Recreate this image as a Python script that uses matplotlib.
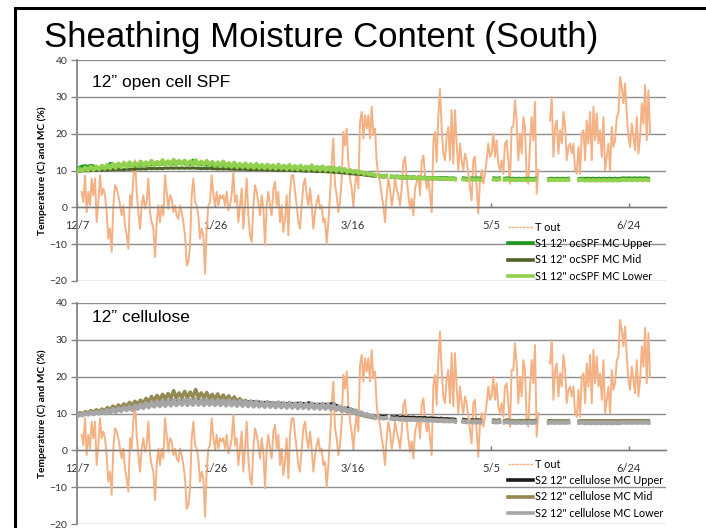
import numpy as np
import matplotlib
matplotlib.use("Agg")
import matplotlib.pyplot as plt
from matplotlib.lines import Line2D

# ---------------- data ----------------
# x axis: days since 12/7 (2011), ticks every 50 days
tick_days = [0, 50, 100, 150, 200]
tick_labels = ["12/7", "1/26", "3/16", "5/5", "6/24"]
y_ticks = [-20, -10, 0, 10, 20, 30, 40]

# Outdoor temperature (C), sampled every ~0.6 day, in contiguous segments
tout_step = 0.604
tout_seg_start = [1.69, 43.96, 87.44, 130.9, 171.4]
tout_seg1 = [4.2, 1.4, 8.7, -1.3, 4.2, 0.5, 7.8, 3.3, 7.8, -4.0, 1.4, 8.7, 3.3, 5.1, 3.3, -1.3,
             -8.5, -5.8, -12.1, 0.5, 6.0, 5.1, 3.3, 0.5, -2.2, 0.5, -4.9, -7.6, -11.2, 3.3, 0.5,
             8.2, 12.8, 4.2, -1.3, -5.8, 0.5, 3.3, -0.4, 1.4, 7.8, -1.3, -4.0, -5.8, -13.5, -4.0,
             0.5, -4.0, 0.5, -2.2, 8.7, 4.2, -0.4, 3.3, 2.4, -1.3, 0.5, -2.2, -3.1, 0.5, -1.3,
             -4.0, -7.6, -15.8, -14.9, -10.3, 3.3, 7.8, 1.4, 0.5]
tout_seg2 = [-2.2, -8.5, -5.8, -7.6, -18.0, -5.8, 0.5, 1.4, 8.7, 3.3, 0.5, 4.2, 0.5, 3.3, 2.4,
             3.3, 0.5, 4.2, -0.8, 0.5, 3.3, 9.6, 1.4, 3.3, -4.0, 0.5, 5.1, -5.8, 0.5, 7.8, -2.2,
             -7.6, -9.4, 0.5, 6.0, 4.2, 1.4, -2.2, 3.3, -0.4, -10.3, 0.5, 4.2, 0.5, -2.2, 5.1,
             6.9, 0.5, 4.2, -4.0, 0.5, -6.7, -3.1, 3.3, -7.6, 4.2, 8.7, 8.7, 4.2, 0.5, -4.0,
             -5.8, 0.5, 6.0, 7.8, 3.3, 0.5, 5.1, 0.5, -5.8, -1.3, 1.4]
tout_seg3 = [3.3, -0.4, 0.5, -4.0, -3.1, -9.9, -4.0, 3.3, 12.3, 18.7, 6.0, 3.3, -1.3, 1.4, 7.8,
             20.5, 16.8, 21.4, 12.3, 7.8, 5.1, 0.5, 6.0, 9.6, 5.1, 23.2, 25.9, 18.7, 25.0, 21.4,
             25.0, 18.7, 27.3, 19.6, 21.4, 12.3, 8.7, 6.9, 3.3, 0.5, -4.0, 3.3, 7.8, 5.1, 0.5,
             3.3, 7.8, 5.1, 3.3, 0.5, 5.1, 12.3, 13.7, 7.8, 3.3, -0.4, 2.4, -2.2, 5.1, 6.9, 8.7,
             3.3, 12.3, 14.1, 8.7, 5.1, 7.8, 3.3, -1.3, 17.8, 20.5, 12.3]
tout_seg4 = [24.5, 32.2, 21.8, 14.6, 12.8, 19.1, 21.8, 12.8, 26.4, 11.9, 26.4, 17.3, 10.1, 17.3,
             12.8, 10.1, 14.6, 12.8, 9.1, 5.5, 1.9, 12.8, 13.7, 5.5, -1.7, 7.3, 10.1, 6.4, 9.1,
             12.8, 17.3, 13.7, 14.6, 20.0, 13.7, 18.2, 11.9, 10.1, 12.8, 9.1, 17.3, 18.2, 12.8,
             6.4, 21.8, 21.8, 29.1, 23.6, 12.8, 20.0, 14.6, 24.5, 21.8, 8.2, 6.4, 17.3, 24.5,
             18.2, 28.6, 3.7, 10.1]
tout_seg5 = [23.6, 30.0, 13.7, 21.8, 23.6, 14.6, 20.9, 17.3, 25.9, 21.8, 12.8, 16.4, 17.3, 14.6,
             17.3, 10.1, 9.1, 16.4, 9.1, 20.0, 20.9, 12.8, 23.6, 17.3, 25.9, 12.8, 27.3, 18.2,
             25.5, 17.3, 20.9, 13.7, 24.5, 10.1, 13.7, 17.3, 10.1, 21.8, 16.4, 18.2, 24.5, 25.5,
             35.4, 32.7, 28.2, 33.6, 25.5, 19.1, 16.4, 22.7, 19.1, 15.5, 24.5, 14.6, 19.1, 28.2,
             22.7, 33.2, 18.2, 31.8, 20.0]

# Sheathing moisture content (%), daily values from day 0 (12/7) to day 207
mc_gap_days = [109, 113, 138, 139, 142, 147, 148, 149, 150, 154, 167, 168, 169, 170, 179, 180, 181]

s1_upper = [
    10.0, 10.9, 11.2, 11.3, 11.1, 11.4, 11.2, 10.9, 10.6, 10.8,
    11.0, 11.2, 11.9, 11.8, 11.3, 11.1, 11.2, 11.4, 11.2, 11.3,
    11.5, 11.2, 11.6, 11.4, 11.7, 11.4, 11.9, 11.5, 11.8, 11.6,
    12.0, 11.7, 12.2, 11.8, 12.1, 11.7, 12.3, 11.9, 12.1, 11.8,
    12.0, 11.6, 12.8, 11.8, 11.9, 11.5, 11.8, 11.4, 11.7, 11.3,
    11.6, 11.2, 11.5, 11.2, 11.4, 11.1, 11.4, 11.0, 11.3, 10.9,
    11.2, 10.9, 11.1, 10.8, 11.0, 10.8, 11.0, 10.7, 11.1, 10.7,
    10.9, 10.6, 11.0, 10.6, 10.9, 10.6, 11.0, 10.6, 10.8, 10.6,
    10.9, 10.5, 10.8, 10.5, 10.9, 10.5, 10.7, 10.4, 10.8, 10.4,
    10.6, 10.3, 10.7, 10.2, 10.4, 10.1, 10.2, 9.9, 10.0, 9.7,
    9.8, 9.5, 9.6, 9.4, 9.3, 9.1, 9.0, 8.8, 8.7, 8.6,
    8.7, 8.6, 8.7, 8.6, 8.5, 8.4, 8.5, 8.3, 8.4, 8.2,
    8.3, 8.2, 8.3, 8.1, 8.2, 8.1, 8.2, 8.0, 8.1, 8.0,
    8.1, 8.0, 8.1, 8.0, 8.1, 7.9, 8.0, 7.9, 7.9, 7.9,
    8.0, 7.9, 8.0, 8.0, 7.9, 8.0, 7.9, 7.9, 7.9, 7.9,
    8.0, 8.0, 7.9, 8.0, 7.9, 7.9, 8.0, 7.8, 7.9, 7.8,
    7.9, 7.8, 7.9, 7.8, 7.9, 7.8, 7.9, 7.8, 7.8, 7.8,
    7.8, 7.8, 7.9, 7.8, 7.9, 7.8, 7.9, 7.8, 7.9, 7.8,
    7.8, 7.8, 7.8, 7.9, 7.8, 7.9, 7.8, 7.9, 7.8, 7.9,
    7.8, 7.9, 7.8, 7.9, 7.8, 7.9, 7.8, 7.9, 8.0, 7.9,
    8.0, 7.9, 8.0, 7.9, 8.0, 7.9, 8.0, 7.9]
s1_mid = [
    9.7, 9.8, 9.9, 10.0, 9.9, 10.0, 10.1, 10.0, 10.1, 10.1,
    10.2, 10.1, 10.2, 10.3, 10.2, 10.3, 10.3, 10.2, 10.4, 10.3,
    10.4, 10.3, 10.5, 10.4, 10.5, 10.4, 10.6, 10.5, 10.6, 10.5,
    10.6, 10.5, 10.7, 10.6, 10.7, 10.6, 10.7, 10.6, 10.7, 10.6,
    10.7, 10.6, 10.7, 10.6, 10.6, 10.5, 10.6, 10.5, 10.6, 10.5,
    10.5, 10.4, 10.5, 10.4, 10.5, 10.4, 10.4, 10.3, 10.4, 10.3,
    10.4, 10.3, 10.3, 10.2, 10.3, 10.2, 10.3, 10.2, 10.2, 10.1,
    10.2, 10.1, 10.1, 10.0, 10.1, 10.0, 10.1, 10.0, 10.0, 9.9,
    10.0, 9.9, 9.9, 9.8, 9.9, 9.8, 9.8, 9.7, 9.8, 9.7,
    9.7, 9.6, 9.7, 9.5, 9.6, 9.4, 9.4, 9.3, 9.3, 9.1,
    9.1, 9.0, 9.0, 8.9, 8.8, 8.7, 8.6, 8.5, 8.4, 8.3,
    8.3, 8.2, 8.3, 8.2, 8.1, 8.1, 8.1, 8.0, 8.0, 7.9,
    8.0, 7.9, 7.9, 7.8, 7.9, 7.8, 7.8, 7.7, 7.8, 7.7,
    7.8, 7.7, 7.7, 7.6, 7.7, 7.6, 7.6, 7.6, 7.6, 7.6,
    7.6, 7.6, 7.6, 7.6, 7.6, 7.6, 7.6, 7.6, 7.6, 7.6,
    7.6, 7.6, 7.6, 7.6, 7.6, 7.6, 7.6, 7.5, 7.6, 7.5,
    7.6, 7.5, 7.6, 7.5, 7.6, 7.5, 7.6, 7.5, 7.5, 7.5,
    7.5, 7.5, 7.6, 7.5, 7.6, 7.5, 7.6, 7.5, 7.6, 7.5,
    7.5, 7.5, 7.5, 7.6, 7.5, 7.6, 7.5, 7.6, 7.5, 7.6,
    7.5, 7.6, 7.5, 7.6, 7.5, 7.6, 7.5, 7.6, 7.6, 7.6,
    7.6, 7.6, 7.6, 7.6, 7.6, 7.6, 7.6, 7.6]
s1_lower = [
    9.6, 10.4, 9.9, 10.8, 10.1, 11.0, 10.2, 11.1, 10.3, 11.3,
    10.5, 11.5, 10.6, 11.8, 10.7, 11.9, 10.9, 12.1, 11.0, 12.2,
    11.2, 12.0, 11.3, 12.4, 11.3, 12.2, 11.5, 12.6, 11.4, 12.3,
    11.6, 12.8, 11.5, 12.5, 11.7, 12.9, 11.6, 12.6, 11.8, 12.7,
    11.6, 12.5, 11.7, 12.8, 11.5, 12.4, 11.6, 12.6, 11.4, 12.3,
    11.3, 12.2, 11.2, 12.4, 11.1, 12.0, 11.0, 12.1, 10.9, 11.8,
    10.9, 11.9, 10.8, 11.7, 10.7, 11.8, 10.7, 11.5, 10.6, 11.6,
    10.6, 11.4, 10.5, 11.6, 10.5, 11.3, 10.4, 11.5, 10.4, 11.2,
    10.3, 11.3, 10.3, 11.1, 10.2, 11.4, 10.2, 11.0, 10.1, 11.1,
    10.0, 10.9, 10.0, 10.8, 9.9, 10.7, 9.8, 10.4, 9.6, 10.1,
    9.5, 9.9, 9.3, 9.6, 9.1, 9.3, 8.9, 9.0, 8.7, 8.6,
    8.5, 8.4, 8.5, 8.4, 8.3, 8.2, 8.3, 8.1, 8.2, 8.0,
    8.1, 8.0, 8.1, 7.9, 8.0, 7.9, 8.0, 7.8, 7.9, 7.8,
    7.9, 7.7, 7.8, 7.7, 7.8, 7.6, 7.7, 7.6, 7.6, 7.6,
    7.6, 7.5, 7.6, 7.6, 7.5, 7.6, 7.5, 7.5, 7.5, 7.5,
    7.6, 7.6, 7.5, 7.6, 7.5, 7.5, 7.6, 7.4, 7.5, 7.4,
    7.5, 7.4, 7.5, 7.4, 7.5, 7.4, 7.5, 7.4, 7.4, 7.4,
    7.4, 7.4, 7.5, 7.4, 7.5, 7.4, 7.5, 7.4, 7.5, 7.4,
    7.4, 7.4, 7.4, 7.5, 7.3, 7.4, 7.3, 7.4, 7.3, 7.4,
    7.3, 7.4, 7.3, 7.4, 7.3, 7.4, 7.3, 7.4, 7.5, 7.4,
    7.5, 7.4, 7.5, 7.4, 7.5, 7.4, 7.5, 7.4]

s2_upper = [
    9.6, 9.8, 10.0, 9.9, 10.1, 10.2, 10.3, 10.2, 10.5, 10.4,
    10.6, 10.8, 10.7, 11.0, 10.9, 11.2, 11.4, 11.2, 11.6, 11.5,
    11.8, 11.7, 12.1, 12.3, 12.4, 12.5, 12.7, 12.4, 12.9, 12.7,
    13.0, 12.8, 13.2, 13.0, 13.3, 13.1, 13.4, 13.2, 13.5, 13.3,
    13.4, 13.2, 13.5, 13.3, 13.6, 13.3, 13.5, 13.2, 13.6, 13.3,
    13.5, 13.2, 13.6, 13.3, 13.7, 13.2, 13.6, 13.1, 13.4, 13.1,
    13.4, 13.0, 13.3, 12.9, 13.3, 12.9, 13.2, 12.8, 13.1, 12.8,
    13.0, 12.7, 12.9, 12.6, 12.9, 12.6, 12.8, 12.5, 12.8, 12.6,
    12.9, 12.6, 12.8, 12.7, 13.0, 12.7, 12.6, 12.4, 12.6, 12.4,
    12.6, 12.5, 12.7, 12.6, 12.3, 11.8, 11.5, 11.3, 11.6, 11.3,
    11.0, 10.6, 10.3, 10.1, 9.9, 9.7, 9.6, 9.4, 9.3, 9.3,
    9.4, 9.3, 9.4, 9.3, 9.2, 9.1, 9.3, 9.0, 9.2, 9.0,
    9.1, 9.0, 9.1, 8.9, 9.0, 8.9, 9.0, 8.8, 8.9, 8.8,
    8.8, 8.7, 8.8, 8.6, 8.7, 8.6, 8.6, 8.5, 8.5, 8.5,
    8.5, 8.4, 8.4, 8.4, 8.3, 8.4, 8.3, 8.3, 8.3, 8.3,
    8.3, 8.3, 8.2, 8.3, 8.2, 8.2, 8.3, 8.1, 8.2, 8.1,
    8.2, 8.1, 8.2, 8.1, 8.2, 8.1, 8.2, 8.1, 8.1, 8.1,
    8.1, 8.1, 8.2, 8.0, 8.1, 8.0, 8.1, 8.0, 8.1, 8.0,
    8.0, 8.0, 8.0, 8.1, 8.0, 8.1, 8.0, 8.1, 8.0, 8.1,
    8.0, 8.1, 8.0, 8.1, 8.0, 8.1, 8.0, 8.1, 8.2, 8.1,
    8.2, 8.1, 8.2, 8.1, 8.2, 8.1, 8.2, 8.1]
s2_mid = [
    9.6, 10.2, 9.9, 10.5, 10.1, 10.8, 10.3, 11.0, 10.5, 11.2,
    10.7, 11.6, 11.0, 12.0, 11.3, 12.3, 11.6, 12.6, 11.9, 13.0,
    12.2, 13.3, 12.5, 13.6, 12.8, 14.1, 13.2, 14.6, 13.5, 14.9,
    13.7, 15.2, 13.9, 15.4, 14.1, 16.2, 14.2, 15.6, 14.3, 16.0,
    14.3, 15.8, 14.4, 16.5, 14.3, 15.6, 14.2, 15.7, 14.0, 15.2,
    13.9, 15.3, 13.7, 15.0, 13.6, 14.8, 13.4, 14.5, 13.2, 14.0,
    12.9, 13.6, 12.7, 13.2, 12.6, 12.9, 12.5, 12.8, 12.4, 12.7,
    12.5, 12.4, 12.5, 12.4, 12.4, 12.3, 12.4, 12.3, 12.3, 12.2,
    12.3, 12.2, 12.2, 12.1, 12.2, 12.1, 12.1, 12.0, 12.1, 12.0,
    12.0, 11.9, 11.9, 11.7, 11.5, 11.2, 11.0, 10.8, 10.9, 10.6,
    10.3, 10.0, 9.8, 9.6, 9.4, 9.2, 9.1, 8.9, 8.8, 8.8,
    8.9, 8.8, 8.9, 8.8, 8.7, 8.6, 8.7, 8.5, 8.6, 8.5,
    8.6, 8.5, 8.5, 8.4, 8.5, 8.4, 8.4, 8.3, 8.4, 8.3,
    8.3, 8.2, 8.3, 8.2, 8.2, 8.1, 8.2, 8.1, 8.1, 8.1,
    8.1, 8.1, 8.1, 8.1, 8.0, 8.1, 8.0, 8.0, 8.0, 8.0,
    8.1, 8.1, 8.0, 8.1, 8.0, 8.0, 8.1, 8.0, 8.0, 8.0,
    8.0, 7.9, 8.0, 7.9, 8.0, 7.9, 8.0, 7.9, 7.9, 7.9,
    7.9, 7.9, 8.0, 7.9, 8.0, 7.9, 8.0, 7.9, 8.0, 7.9,
    7.9, 7.9, 7.9, 8.0, 7.9, 8.0, 7.9, 8.0, 7.9, 8.0,
    7.9, 8.0, 7.9, 8.0, 7.9, 8.0, 7.9, 8.0, 8.0, 8.0,
    8.0, 8.0, 8.0, 8.0, 8.0, 8.0, 8.0, 8.0]
s2_lower = [
    9.2, 9.8, 9.5, 10.1, 9.7, 10.3, 9.8, 10.4, 10.0, 10.7,
    10.1, 10.9, 10.3, 11.2, 10.4, 11.4, 10.7, 11.6, 10.9, 11.8,
    11.0, 12.1, 11.3, 12.4, 11.5, 12.7, 11.7, 12.9, 11.9, 13.1,
    12.0, 13.3, 12.1, 13.4, 12.2, 13.6, 12.3, 13.5, 12.4, 13.7,
    12.3, 13.6, 12.4, 13.8, 12.4, 13.6, 12.3, 13.7, 12.4, 13.5,
    12.3, 13.6, 12.3, 13.5, 12.2, 13.6, 12.2, 13.4, 12.1, 13.4,
    12.1, 13.3, 12.0, 13.3, 11.9, 13.2, 11.9, 13.0, 11.8, 13.1,
    11.8, 12.9, 11.7, 13.0, 11.7, 12.8, 11.6, 12.9, 11.6, 12.7,
    11.5, 12.8, 11.5, 12.6, 11.4, 12.7, 11.4, 12.5, 11.3, 12.6,
    11.3, 12.4, 11.2, 12.3, 11.0, 11.9, 10.7, 11.5, 10.5, 11.2,
    10.2, 10.8, 9.9, 10.3, 9.5, 9.8, 9.2, 9.4, 8.9, 9.0,
    8.8, 8.7, 8.8, 8.7, 8.6, 8.5, 8.6, 8.4, 8.5, 8.3,
    8.4, 8.3, 8.4, 8.2, 8.3, 8.2, 8.3, 8.1, 8.2, 8.1,
    8.1, 8.0, 8.1, 7.9, 8.0, 7.9, 8.0, 7.8, 7.8, 7.8,
    7.8, 7.7, 7.8, 7.7, 7.6, 7.7, 7.6, 7.6, 7.6, 7.6,
    7.7, 7.7, 7.6, 7.7, 7.6, 7.6, 7.7, 7.5, 7.6, 7.5,
    7.6, 7.5, 7.6, 7.5, 7.6, 7.5, 7.6, 7.5, 7.5, 7.5,
    7.5, 7.5, 7.6, 7.5, 7.6, 7.5, 7.6, 7.5, 7.6, 7.5,
    7.5, 7.5, 7.5, 7.6, 7.4, 7.5, 7.4, 7.5, 7.4, 7.5,
    7.4, 7.5, 7.4, 7.5, 7.4, 7.5, 7.4, 7.5, 7.6, 7.5,
    7.6, 7.5, 7.6, 7.5, 7.6, 7.5, 7.6, 7.5]

title = "Sheathing Moisture Content (South)"
panel_titles = ["12\u201d open cell SPF", "12\u201d cellulose"]
ylabel = "Temperature (C) and MC (%)"
series_names = [
    ["T out", "S1 12\" ocSPF MC Upper", "S1 12\" ocSPF MC Mid", "S1 12\" ocSPF MC Lower"],
    ["T out", "S2 12\" cellulose MC Upper", "S2 12\" cellulose MC Mid", "S2 12\" cellulose MC Lower"],
]

# ---------------- build series ----------------
segs = [tout_seg1, tout_seg2, tout_seg3, tout_seg4, tout_seg5]
tx, ty = [], []
for k, (s0, seg) in enumerate(zip(tout_seg_start, segs)):
    tx.extend(s0 + np.arange(len(seg)) * tout_step)
    ty.extend(seg)
    if k == 3:  # data gap before the last segment
        tx.append(np.nan)
        ty.append(np.nan)
tx = np.array(tx)
ty = np.array(ty)

mc_days = np.arange(len(s1_upper))


def masked(vals):
    v = np.array(vals, dtype=float)
    v[mc_gap_days] = np.nan
    return v


panels = [
    [(s1_upper, "#1f9a1f", 2.2), (s1_mid, "#4f6228", 2.2), (s1_lower, "#92d050", 3.0)],
    [(s2_upper, "#1a1a1a", 1.8), (s2_mid, "#948a54", 2.6), (s2_lower, "#a6a6a6", 3.2)],
]
tout_color = "#f4b183"

# ---------------- figure ----------------
W, H = 706, 528
fig = plt.figure(figsize=(W / 100, H / 100), dpi=100)

lab_font = "Lato"
axes_px = [(77, 60, 666, 281), (77, 303, 666, 524)]
legend_top_px = [222, 459]
panel_label_y = [82, 318]

for i, (l, t, r, b) in enumerate(axes_px):
    ax = fig.add_axes([l / W, 1 - b / H, (r - l) / W, (b - t) / H])
    ax.set_xlim(0, 213.4)
    ax.set_ylim(-20, 40)
    ax.set_yticks(y_ticks)
    ax.set_xticks(tick_days)
    ax.set_xticklabels(tick_labels)
    ax.yaxis.grid(True, color="#8e8e8e", lw=1.0)
    ax.set_axisbelow(True)
    for sp in ["top", "right"]:
        ax.spines[sp].set_visible(False)
    ax.spines["left"].set_color("#868686")
    ax.spines["left"].set_linewidth(1.3)
    ax.spines["bottom"].set_position(("data", 0))
    ax.spines["bottom"].set_color("#7a7a7a")
    ax.spines["bottom"].set_linewidth(1.0)
    ax.tick_params(axis="y", direction="out", length=4, width=1, color="#868686",
                   labelsize=7.5, labelcolor="#333333", pad=3)
    ax.tick_params(axis="x", direction="in", length=3, width=1, color="#7a7a7a",
                   labelsize=8, labelcolor="#333333", pad=9)
    for lab in ax.get_xticklabels() + ax.get_yticklabels():
        lab.set_family(lab_font)

    ax.plot(tx, ty, color=tout_color, lw=1.4, zorder=2)
    handles = [Line2D([], [], color=tout_color, lw=1.0, ls=(0, (2, 0.6)))]
    for vals, col, lw in panels[i]:
        ax.plot(mc_days, masked(vals), color=col, lw=lw, zorder=3)
        handles.append(Line2D([], [], color=col, lw=2.6))

    fig.text(92 / W, 1 - panel_label_y[i] / H, panel_titles[i], fontsize=12.5,
             family="Liberation Sans", va="center", ha="left")
    fig.text(42.5 / W, 1 - ((t + b) / 2) / H, ylabel, rotation=90, fontsize=7.3,
             fontweight="bold", family=lab_font, ha="center", va="center")
    leg = ax.legend(handles, series_names[i], loc="upper left",
                    bbox_to_anchor=(508 / W, 1 - legend_top_px[i] / H),
                    bbox_transform=fig.transFigure, frameon=False,
                    prop={"family": lab_font, "size": 7.8},
                    handlelength=2.3, handletextpad=0.15, labelspacing=0.48,
                    borderpad=0, borderaxespad=0)
    leg.set_zorder(5)

fig.text(44 / W, 1 - 46.5 / H, title, fontsize=25, family="Liberation Sans",
         va="baseline", ha="left")

# slide frame (left and top edges)
fig.add_artist(Line2D([15 / W, 15 / W, 1], [0, 1 - 8 / H, 1 - 8 / H],
                      transform=fig.transFigure, color="black", lw=2.2,
                      solid_joinstyle="miter", zorder=10))

fig.savefig("out.png", dpi=100)
